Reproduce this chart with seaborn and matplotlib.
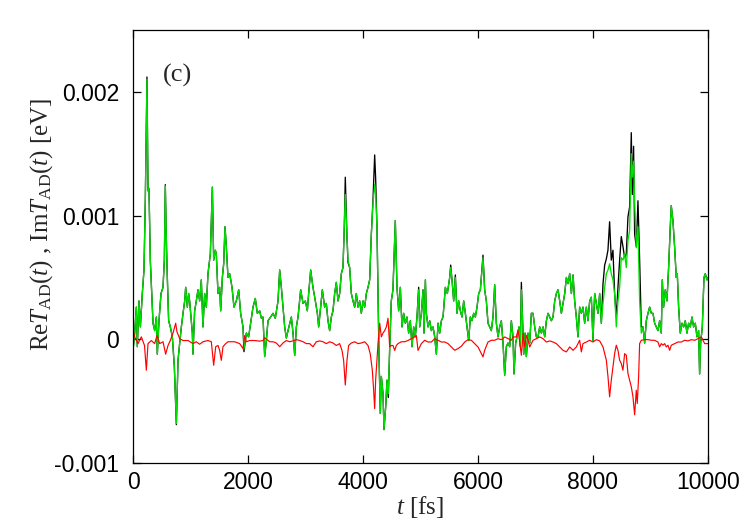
import numpy as np
import matplotlib
matplotlib.use("Agg")
import matplotlib.pyplot as plt
import seaborn as sns

# ---------------- data (values in meV, i.e. 1e-3 eV) ----------------
t_fs = [
    0, 29, 58, 75, 104, 128, 162, 191, 214, 243,
    261, 278, 301, 325, 348, 377, 406, 423, 452, 487,
    522, 545, 562, 580, 597, 620, 649, 684, 719, 754,
    783, 812, 841, 870, 899, 916, 945, 968, 985, 1014,
    1032, 1043, 1072, 1101, 1130, 1159, 1188, 1217, 1246, 1275,
    1304, 1345, 1380, 1403, 1432, 1449, 1478, 1507, 1525, 1554,
    1577, 1600, 1623, 1652,
    1681, 1722, 1756, 1797, 1838, 1872, 1913, 1930, 1971, 2011,
    2046, 2087, 2127, 2162, 2203, 2232, 2261, 2290, 2319, 2348,
    2394, 2435, 2475, 2522, 2551, 2580, 2609, 2638, 2667, 2696,
    2754, 2783, 2812, 2841, 2870, 2916, 2957, 2997, 3032, 3055,
    3090, 3130, 3171, 3206, 3229, 3264, 3293,
    3333, 3362, 3391, 3420, 3449, 3478, 3507, 3536, 3565, 3594,
    3623, 3652, 3675, 3692, 3721, 3739, 3768, 3797, 3826, 3855,
    3884, 3913, 3942, 3971, 4000, 4029, 4058, 4087, 4116, 4145,
    4174, 4203, 4220, 4243, 4261, 4278, 4301, 4319, 4348, 4365,
    4394, 4417, 4440, 4463, 4492, 4521, 4562, 4591, 4620, 4649,
    4678, 4707, 4736, 4765, 4794, 4823, 4852, 4881, 4910, 4939,
    4968,
    4986, 5015, 5044, 5061, 5085, 5102, 5131, 5160, 5189, 5218,
    5247, 5276, 5305, 5334, 5363, 5392, 5432, 5467, 5508, 5525,
    5548, 5577, 5606, 5635, 5664, 5693, 5722, 5751, 5780, 5809,
    5838, 5867, 5896, 5925, 5954, 5983, 6012, 6041, 6087, 6116,
    6145, 6174, 6203, 6232, 6261, 6290, 6319, 6348, 6377, 6406,
    6435, 6464, 6493, 6522, 6551, 6580, 6609,
    6626, 6655, 6679, 6713, 6737, 6754, 6771, 6795, 6818, 6841,
    6870, 6899, 6928, 6957, 6986, 7015, 7044, 7073, 7102, 7131,
    7160, 7189, 7218, 7247, 7276, 7305, 7334, 7363, 7392, 7421,
    7450, 7479, 7508, 7537, 7566, 7595, 7624, 7653, 7681, 7710,
    7739, 7768, 7797, 7826, 7855, 7884, 7913, 7942, 7971, 8000,
    8029, 8058, 8087, 8116, 8145, 8174, 8203, 8232,
    8260, 8289, 8318, 8347, 8376, 8405, 8434, 8463, 8492, 8521,
    8550, 8579, 8608, 8637, 8666, 8683, 8706, 8724, 8753, 8782,
    8811, 8840, 8869, 8898, 8927, 8956, 8985, 9014, 9043, 9072,
    9101, 9130, 9159, 9188, 9205, 9228, 9257, 9286, 9315, 9344,
    9361, 9390, 9419, 9448, 9466, 9489, 9518, 9547, 9576, 9605,
    9634, 9663, 9692, 9721, 9750, 9779, 9808, 9837, 9854, 9872,
    9901, 9930, 9953, 9982, 10000,
]

green_mev = [
    -0.09, 0.05, 0.26, -0.06, 0.31, 0.10, 0.37, 0.56, 1.12, 2.10,
    1.20, 1.22, 0.64, 0.37, 0.13, 0.07, 0.18, -0.12, 0.15, 0.37,
    0.42, 0.64, 1.24, 0.80, 0.50, 0.15, 0.10, 0.02, -0.22, -0.68,
    -0.17, -0.03, 0.10, 0.21, 0.31, 0.42, 0.26, 0.37, 0.31, 0.15,
    0.05, -0.12, 0.23, 0.31, 0.40, 0.31, 0.48, 0.10, 0.37, 0.26,
    0.53, 0.69, 1.23, 0.64, 0.72, 0.69, 0.37, 0.42, 0.23, 0.50,
    0.61, 0.91, 0.75, 0.50,
    0.53, 0.42, 0.26, 0.31, 0.40, 0.21, 0.10, -0.08, 0.05, 0.02,
    0.13, 0.26, 0.33, 0.21, 0.23, 0.17, 0.18, -0.14, -0.01, 0.15,
    0.18, 0.21, 0.17, 0.31, 0.56, 0.42, 0.26, 0.10, 0.01, 0.07,
    0.18, 0.05, -0.13, 0.10, 0.18, 0.40, 0.29, 0.31, 0.23, 0.37,
    0.56, 0.42, 0.31, 0.21, 0.10, 0.26, 0.40,
    0.26, 0.29, 0.15, 0.07, 0.18, 0.23, 0.37, 0.46, 0.31, 0.37,
    0.53, 0.58, 0.91, 1.17, 0.83, 0.64, 0.58, 0.37, 0.31, 0.26,
    0.37, 0.26, 0.31, 0.21, 0.31, 0.26, 0.37, 0.42, 0.48, 0.85,
    1.10, 1.25, 1.17, 0.91, 0.37, -0.12, -0.60, -0.30, -0.44, -0.73,
    -0.55, -0.33, -0.44, -0.09, 0.31, 0.40, 0.96, 0.42, 0.23, 0.42,
    0.10, 0.21, 0.13, 0.18, 0.05, 0.15, -0.06, 0.10, 0.02, 0.18,
    0.40,
    0.10, 0.21, 0.40, 0.05, 0.48, 0.21, 0.10, 0.15, 0.07, 0.10,
    0.02, -0.12, 0.13, 0.05, 0.15, 0.18, 0.42, 0.37, 0.50, 0.58,
    0.48, 0.31, 0.50, 0.21, 0.31, 0.23, 0.18, 0.31, 0.21, 0.10,
    -0.01, 0.18, 0.15, 0.21, 0.18, 0.26, 0.37, 0.40, 0.66, 0.40,
    0.31, 0.13, 0.10, 0.07, 0.18, 0.44, 0.13, 0.02, 0.10, 0.15,
    -0.03, -0.29, -0.06, -0.03, -0.06, 0.15, 0.02,
    -0.28, -0.03, 0.02, 0.10, -0.06, 0.40, 0.21, -0.12, 0.05, -0.14,
    0.05, -0.03, 0.21, 0.21, 0.10, 0.02, 0.02, 0.10, 0.05, 0.10,
    0.02, 0.15, 0.21, 0.18, 0.15, 0.18, 0.31, 0.37, 0.40, 0.31,
    0.21, 0.29, 0.37, 0.50, 0.45, 0.53, 0.37, 0.52, 0.31, 0.18,
    0.02, 0.26, 0.21, 0.26, 0.13, 0.26, 0.15, 0.31, 0.34, -0.01,
    0.37, 0.29, 0.21, 0.37, 0.13, 0.29, 0.42, 0.53,
    0.56, 0.61, 0.53, 0.48, 0.37, 0.10, 0.31, 0.42, 0.66, 0.64,
    0.69, 0.58, 0.80, 0.88, 1.50, 1.31, 1.44, 1.12, 0.74, 0.91,
    0.31, 0.05, 0.10, -0.03, 0.15, 0.21, 0.26, 0.21, 0.21, 0.13,
    0.10, 0.07, 0.15, 0.05, 0.48, 0.26, 0.40, 0.31, 0.58, 0.91,
    1.08, 0.96, 0.75, 0.50, 0.53, 0.26, 0.05, 0.13, 0.10, 0.15,
    0.05, 0.13, 0.10, 0.18, 0.10, 0.13, 0.02, 0.07, -0.28, -0.03,
    0.10, 0.50, 0.53, 0.48, 0.50,
]

black_mev = [
    -0.09, 0.05, 0.26, -0.06, 0.31, 0.10, 0.37, 0.56, 1.12, 2.12,
    1.20, 1.22, 0.64, 0.37, 0.13, 0.07, 0.18, -0.12, 0.15, 0.37,
    0.42, 0.64, 1.25, 0.80, 0.50, 0.15, 0.10, 0.02, -0.22, -0.69,
    -0.17, -0.03, 0.10, 0.21, 0.31, 0.42, 0.26, 0.37, 0.31, 0.15,
    0.05, -0.12, 0.23, 0.31, 0.40, 0.31, 0.48, 0.10, 0.37, 0.26,
    0.53, 0.69, 1.23, 0.64, 0.72, 0.69, 0.37, 0.42, 0.23, 0.50,
    0.61, 0.91, 0.75, 0.50,
    0.53, 0.42, 0.26, 0.31, 0.40, 0.21, 0.10, -0.10, 0.05, 0.02,
    0.13, 0.26, 0.33, 0.21, 0.23, 0.17, 0.18, -0.14, -0.01, 0.15,
    0.18, 0.21, 0.17, 0.31, 0.56, 0.42, 0.26, 0.10, 0.01, 0.07,
    0.18, 0.05, -0.13, 0.10, 0.18, 0.40, 0.29, 0.31, 0.23, 0.37,
    0.56, 0.42, 0.31, 0.21, 0.10, 0.26, 0.40,
    0.26, 0.29, 0.15, 0.07, 0.18, 0.23, 0.37, 0.46, 0.31, 0.37,
    0.53, 0.58, 0.91, 1.31, 0.83, 0.62, 0.58, 0.37, 0.31, 0.26,
    0.37, 0.26, 0.31, 0.21, 0.31, 0.26, 0.37, 0.42, 0.48, 0.85,
    1.13, 1.49, 1.30, 0.91, 0.37, -0.12, -0.60, -0.30, -0.44, -0.73,
    -0.55, -0.33, -0.47, -0.09, 0.31, 0.40, 0.96, 0.42, 0.23, 0.42,
    0.10, 0.21, 0.13, 0.18, 0.05, 0.15, -0.06, 0.10, 0.02, 0.18,
    0.42,
    0.10, 0.21, 0.40, 0.05, 0.48, 0.21, 0.10, 0.15, 0.07, 0.10,
    0.02, -0.12, 0.13, 0.05, 0.15, 0.18, 0.42, 0.37, 0.50, 0.60,
    0.48, 0.31, 0.52, 0.21, 0.31, 0.23, 0.18, 0.31, 0.21, 0.10,
    -0.01, 0.18, 0.15, 0.21, 0.18, 0.26, 0.37, 0.40, 0.68, 0.40,
    0.31, 0.13, 0.10, 0.07, 0.18, 0.44, 0.13, 0.02, 0.10, 0.15,
    -0.03, -0.29, -0.06, -0.03, -0.06, 0.15, 0.02,
    -0.28, -0.03, 0.02, 0.10, -0.06, 0.46, 0.21, -0.12, 0.05, -0.14,
    0.05, -0.03, 0.21, 0.21, 0.10, 0.02, 0.02, 0.10, 0.05, 0.10,
    0.02, 0.15, 0.21, 0.18, 0.15, 0.18, 0.31, 0.37, 0.40, 0.31,
    0.21, 0.29, 0.37, 0.50, 0.45, 0.53, 0.37, 0.52, 0.31, 0.18,
    0.02, 0.26, 0.21, 0.26, 0.13, 0.26, 0.15, 0.31, 0.34, -0.01,
    0.37, 0.29, 0.21, 0.37, 0.13, 0.45, 0.60, 0.65,
    0.72, 0.95, 0.64, 0.72, 0.37, 0.18, 0.42, 0.64, 0.83, 0.75,
    0.66, 0.69, 0.99, 1.07, 1.67, 1.17, 1.56, 0.85, 0.75, 1.12,
    0.64, 0.10, 0.10, -0.03, 0.15, 0.21, 0.26, 0.21, 0.21, 0.13,
    0.10, 0.07, 0.15, 0.05, 0.48, 0.26, 0.40, 0.31, 0.58, 0.91,
    1.08, 0.96, 0.75, 0.50, 0.53, 0.26, 0.05, 0.13, 0.10, 0.15,
    0.05, 0.13, 0.10, 0.18, 0.10, 0.13, 0.02, 0.07, -0.28, -0.03,
    0.10, 0.50, 0.53, 0.48, 0.50,
]

t_red_fs = [
    0, 29, 87, 145, 200, 232, 261, 319, 377, 417,
    464, 522, 568, 609, 649, 696, 742, 765, 812, 870,
    957, 1043, 1101, 1159, 1217, 1304, 1362, 1403, 1438, 1478,
    1507, 1536, 1565, 1612, 1652,
    1768, 1855, 1913, 1942, 1971, 2029, 2116, 2203, 2261, 2290,
    2336, 2377, 2435, 2493, 2551, 2609, 2667, 2725, 2783, 2841,
    2899, 2957, 3015, 3072, 3130, 3188, 3246, 3304,
    3362, 3420, 3478, 3536, 3594, 3635, 3663, 3692, 3721, 3750,
    3797, 3855, 3913, 3971, 4029, 4087, 4127, 4162, 4185, 4203,
    4220, 4243, 4261, 4290, 4319, 4348, 4377, 4406, 4435, 4464,
    4493, 4522, 4551, 4580, 4609, 4667, 4725, 4782, 4840, 4899,
    4928, 4957,
    5015, 5073, 5131, 5189, 5247, 5305, 5363, 5421, 5479, 5537,
    5595, 5653, 5711, 5769, 5827, 5884, 5942, 6000, 6058, 6087,
    6116, 6174, 6232, 6290, 6348, 6406, 6464, 6522, 6580,
    6609, 6667, 6696, 6725, 6754, 6783, 6812, 6841, 6870, 6899,
    6957, 7015, 7073, 7131, 7189, 7247, 7305, 7363, 7421, 7479,
    7537, 7595, 7653, 7710, 7768, 7797, 7826, 7884, 7942, 8000,
    8058, 8116, 8174, 8203, 8232, 8261, 8289,
    8318, 8347, 8376, 8405, 8434, 8463, 8492, 8521, 8550, 8579,
    8608, 8637, 8666, 8695, 8724, 8753, 8770, 8793, 8811, 8840,
    8898, 8956, 9014, 9072, 9130, 9159, 9188, 9217, 9246, 9275,
    9304, 9333, 9362, 9420, 9478, 9536, 9594, 9652, 9710, 9768,
    9826, 9884, 9942, 10000,
]

red_mev = [
    0.08, 0.02, -0.035, 0.02, -0.05, -0.25, -0.035, -0.01, -0.035, 0.03,
    -0.035, -0.02, -0.12, -0.05, -0.01, 0.05, 0.13, 0.06, 0.005, -0.01,
    -0.01, -0.035, -0.02, -0.04, -0.02, -0.01, -0.02, -0.21, -0.06, -0.05,
    -0.09, -0.17, -0.06, -0.035, -0.02,
    -0.02, -0.035, -0.075, 0.03, -0.02, -0.01, -0.01, -0.015, -0.01, 0.013,
    -0.005, -0.02, -0.02, -0.03, -0.06, -0.03, -0.01, -0.02, -0.013, -0.003,
    -0.01, -0.02, -0.035, -0.035, -0.06, -0.02, -0.013, -0.02,
    -0.035, -0.02, -0.03, -0.05, -0.035, -0.09, -0.17, -0.37, -0.17, -0.05,
    -0.03, -0.02, -0.035, -0.03, -0.02, -0.05, -0.12, -0.25, -0.41, -0.56,
    -0.33, -0.17, -0.035, 0.13, 0.02, 0.05, 0.07, 0.10, 0.17, -0.06,
    -0.05, -0.05, -0.09, -0.05, -0.035, -0.02, -0.02, -0.01, 0.005, 0.02,
    0.03, -0.09,
    -0.035, -0.008, -0.022, -0.022, 0.005, -0.008, -0.022, -0.022, -0.035, -0.062,
    -0.089, -0.075, -0.056, -0.022, -0.003, -0.008, -0.035, -0.062, -0.116, -0.142,
    -0.089, -0.022, -0.008, -0.008, 0.005, -0.003, 0.019, 0.005, -0.008,
    0.019, 0.019, 0.073, -0.022, -0.129, 0.046, -0.062, 0.032, -0.008, -0.062,
    -0.008, 0.005, 0.019, 0.005, -0.022, -0.013, -0.022, -0.035, -0.062, -0.089,
    -0.102, -0.062, -0.089, -0.062, -0.008, -0.102, -0.035, -0.022, -0.008, -0.022,
    -0.003, -0.013, -0.062, -0.116, -0.169, -0.304, -0.465,
    -0.331, -0.223, -0.116, -0.048, -0.089, -0.169, -0.196, -0.25, -0.116, -0.129,
    -0.277, -0.331, -0.384, -0.465, -0.61, -0.411, -0.519, -0.304, -0.035, -0.008,
    -0.003, -0.003, -0.008, -0.008, -0.022, -0.062, -0.035, -0.048, -0.035, -0.062,
    -0.048, -0.089, -0.048, -0.035, -0.022, -0.022, -0.008, -0.013, -0.003, -0.008,
    0.005, 0.019, -0.035, -0.035,
]

x_ticks = [0, 2000, 4000, 6000, 8000, 10000]
y_ticks = [-0.001, 0.0, 0.001, 0.002]
y_ticklabels = ["-0.001", "0", "0.001", "0.002"]

# ---------------- plotting ----------------
sns.set_style("ticks")
plt.rcParams["font.family"] = ["Liberation Sans", "DejaVu Sans"]
plt.rcParams["mathtext.fontset"] = "custom"
plt.rcParams["mathtext.rm"] = "Liberation Serif"
plt.rcParams["mathtext.it"] = "Liberation Serif:italic"
plt.rcParams["axes.unicode_minus"] = False

t = np.array(t_fs, dtype=float)
t_r = np.array(t_red_fs, dtype=float)
g_ev = np.array(green_mev) * 1e-3
k_ev = np.array(black_mev) * 1e-3
r_ev = np.array(red_mev) * 1e-3

fig = plt.figure(figsize=(7.51, 5.26), dpi=100)
ax = fig.add_axes([133 / 751, 1 - 463 / 526, (708 - 133) / 751, (463 - 30) / 526])

sns.lineplot(x=t, y=k_ev, ax=ax, color="black", lw=0.95, estimator=None, sort=False)
sns.lineplot(x=t, y=g_ev, ax=ax, color="#00e000", lw=0.95, estimator=None, sort=False)
sns.lineplot(x=t_r, y=r_ev, ax=ax, color="#ff0000", lw=0.85, estimator=None, sort=False)

ax.set_xlim(0, 10000)
ax.set_ylim(-0.001, 0.0025)
ax.set_xticks(x_ticks)
ax.set_xticklabels([str(v) for v in x_ticks])
ax.set_yticks(y_ticks)
ax.set_yticklabels(y_ticklabels)

for s in ax.spines.values():
    s.set_visible(True)
    s.set_linewidth(0.9)
    s.set_color("black")

ax.tick_params(axis="both", direction="in", length=6, width=0.9,
               top=True, right=True, labelsize=16.5, colors="black")
ax.tick_params(axis="x", pad=6)
ax.tick_params(axis="y", pad=10)

ax.set_xlabel(r"$t$ [fs]", fontfamily="Liberation Serif", fontsize=18, labelpad=0)
ax.set_ylabel(r"Re$T_{\rm AD}(t)$ , Im$T_{\rm AD}(t)$ [eV]",
              fontfamily="Liberation Serif", fontsize=18, labelpad=6)
ax.yaxis.set_label_coords(-0.135, 0.55)

ax.text(522, 0.00213, "(c)", fontfamily="Liberation Serif", fontsize=19,
        ha="left", va="center")

fig.savefig("out.png", dpi=100)
